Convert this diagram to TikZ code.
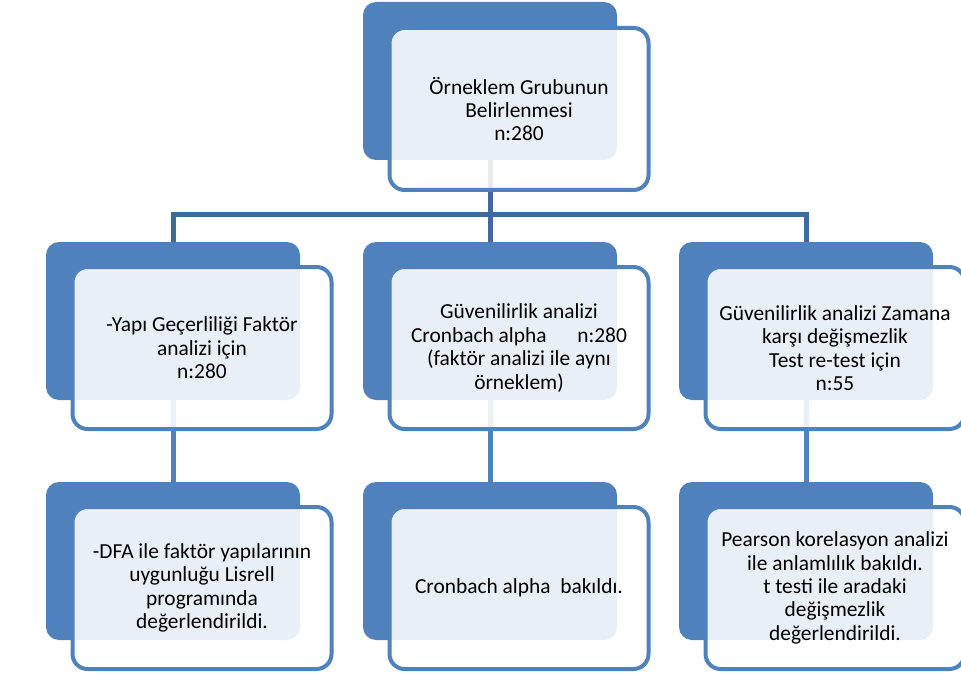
\documentclass[tikz,border=0pt]{standalone}
\usepackage{fontspec}
\setmainfont{Carlito}
\usetikzlibrary{positioning}

\definecolor{boxblue}{RGB}{79,129,189}
\definecolor{linkblue}{RGB}{64,106,158}

\tikzset{
  backbox/.style={fill=boxblue, rounded corners=13pt, minimum width=254pt, minimum height=158pt, inner sep=0pt},
  frontbox/.style={draw=boxblue, line width=4pt, fill=white, fill opacity=0.88, text opacity=1,
    rounded corners=15pt, minimum width=259pt, minimum height=162pt, align=center,
    font=\fontsize{21.4}{23.4}\selectfont},
  toplink/.style={draw=linkblue, line width=5pt},
  sublink/.style={draw=boxblue, line width=5pt}
}

\begin{document}
\begin{tikzpicture}[x=1pt, y=-1pt]
  \useasboundingbox (0,0) rectangle (961,679);

  % arka kutular
  \node[backbox] (topb) at (490,81) {};
  \node[backbox] (m1b) at (173,321) {};
  \node[backbox] (m2b) at (490,321) {};
  \node[backbox] (m3b) at (806,321) {};
  \node[backbox] (a1b) at (173,561) {};
  \node[backbox] (a2b) at (490,561) {};
  \node[backbox] (a3b) at (806,561) {};

  % baglantilar
  \coordinate (hl) at (173,215);
  \coordinate (hr) at (806,215);
  \draw[toplink] (topb.south) -- (m2b.north);
  \draw[toplink] (m1b.north) -- (hl) -- (hr) -- (m3b.north);
  \draw[sublink] (m1b.south) -- (a1b.north);
  \draw[sublink] (m2b.south) -- (a2b.north);
  \draw[sublink] (m3b.south) -- (a3b.north);

  % on kutular
  \node[frontbox] (top) at (519,109) {Örneklem Grubunun\\Belirlenmesi\\n:280};
  \node[frontbox] (m1) at (202,348) {-Yapı Geçerliliği Faktör\\analizi için\\n:280};
  \node[frontbox] (m2) at (519,348) {Güvenilirlik analizi\\Cronbach alpha\hspace{26pt} n:280\\(faktör analizi ile aynı\\örneklem)};
  \node[frontbox] (m3) at (835,348) {Güvenilirlik analizi Zamana\\karşı değişmezlik\\Test re-test için\\n:55};
  \node[frontbox] (a1) at (202,588) {-DFA ile faktör yapılarının\\uygunluğu Lisrell\\programında\\değerlendirildi.};
  \node[frontbox] (a2) at (519,588) {Cronbach alpha\ \ bakıldı.};
  \node[frontbox] (a3) at (835,588) {Pearson korelasyon analizi\\ile anlamlılık bakıldı.\\t testi ile aradaki\\değişmezlik\\değerlendirildi.};
\end{tikzpicture}
\end{document}
